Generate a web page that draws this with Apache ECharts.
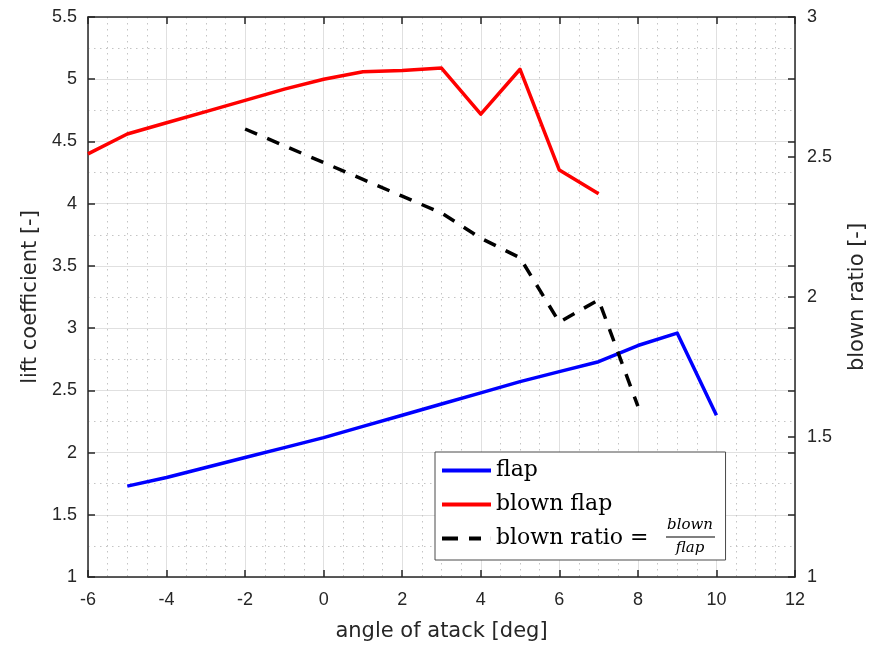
<!DOCTYPE html>
<html>
<head>
<meta charset="utf-8">
<script src="https://cdn.jsdelivr.net/npm/echarts@6/dist/echarts.min.js"></script>
<style>
  html, body { margin: 0; padding: 0; background: #ffffff; }
  #chart { width: 876px; height: 648px; }
</style>
</head>
<body>
<div id="chart"></div>
<script>
// Angle of attack [deg] and lift coefficient of the plain flap
const alphaFlap = [-5, -4, -3, -2, -1, 0, 1, 2, 3, 4, 5, 6, 7, 8, 9, 10];
const liftFlap  = [1.73, 1.80, 1.88, 1.96, 2.04, 2.12, 2.21, 2.30, 2.39, 2.48, 2.57, 2.65, 2.73, 2.86, 2.96, 2.30];

// Lift coefficient of the blown flap
const alphaBlown = [-6, -5, -4, -3, -2, -1, 0, 1, 2, 3, 4, 5, 6, 7];
const liftBlown  = [4.40, 4.56, 4.65, 4.74, 4.83, 4.92, 5.00, 5.06, 5.07, 5.09, 4.72, 5.08, 4.27, 4.08];

// Blown ratio = blown / flap (right axis)
const alphaRatio = [-2, -1, 0, 1, 2, 3, 4, 5, 6, 7, 8];
const blownRatio = [2.60, 2.54, 2.48, 2.42, 2.36, 2.30, 2.21, 2.14, 1.91, 1.99, 1.61];

// Axis ranges and tick spacing
const xRange = { min: -6, max: 12, step: 2 };
const liftRange = { min: 1, max: 5.5, step: 0.5 };
const ratioRange = { min: 1, max: 3, step: 0.5 };

const axisTitles = { x: 'angle of atack [deg]', left: 'lift coefficient [-]', right: 'blown ratio [-]' };
const seriesNames = ['flap', 'blown flap', 'blown ratio'];

const ink = '#262626';
const sans = '"Liberation Sans", Arial, Helvetica, sans-serif';
const titleFont = '"DejaVu Sans", "Liberation Sans", sans-serif';
const serif = '"DejaVu Serif", "Liberation Serif", serif';

const pairs = (xs, ys) => xs.map((x, i) => [x, ys[i]]);

const axisLine = { show: true, onZero: false, lineStyle: { color: ink, width: 1.5 } };
const axisTick = { show: true, inside: true, length: 7, lineStyle: { color: ink, width: 1.5 } };
const majorGrid = { show: true, lineStyle: { color: '#e0e0e0', width: 1 } };
const minorGrid = { show: true, lineStyle: { color: '#c4c4c4', width: 1, type: [1.5, 4.5] } };
const tickFont = { fontFamily: sans, fontSize: 18, color: ink };

// legend glyphs: solid bar and two-dash bar, 49 x 4
const solidIcon = 'path://M0 0H49V4H0Z';
const dashIcon = 'path://M0 0H16V4H0Z M27 0H39V4H27Z M48.9 0H49V4H48.9Z';

// stacked fraction shown after "blown ratio =" in the legend
const fracFont = 'italic 15px ' + serif;

const chart = echarts.init(document.getElementById('chart'), null, { renderer: 'canvas' });

chart.setOption({
  backgroundColor: '#ffffff',
  animation: false,
  grid: { left: 88, right: 79, top: 17, bottom: 71, containLabel: false },
  xAxis: [
    {
      type: 'value', position: 'bottom',
      min: xRange.min, max: xRange.max, interval: xRange.step,
      name: axisTitles.x, nameLocation: 'middle', nameGap: 44,
      nameTextStyle: { fontFamily: titleFont, fontSize: 21, color: ink },
      axisLine, axisTick,
      axisLabel: Object.assign({ margin: 14 }, tickFont),
      splitLine: majorGrid,
      minorTick: { show: false, splitNumber: 4 },
      minorSplitLine: minorGrid
    },
    {
      type: 'value', position: 'top',
      min: xRange.min, max: xRange.max, interval: xRange.step,
      axisLine, axisTick,
      axisLabel: { show: false },
      splitLine: { show: false }
    }
  ],
  yAxis: [
    {
      type: 'value', position: 'left',
      min: liftRange.min, max: liftRange.max, interval: liftRange.step,
      name: axisTitles.left, nameLocation: 'middle', nameGap: 47,
      nameTextStyle: { fontFamily: titleFont, fontSize: 21, color: ink },
      axisLine, axisTick,
      axisLabel: Object.assign({ margin: 11 }, tickFont),
      splitLine: majorGrid,
      minorTick: { show: false, splitNumber: 2 },
      minorSplitLine: minorGrid
    },
    {
      type: 'value', position: 'right',
      min: ratioRange.min, max: ratioRange.max, interval: ratioRange.step,
      name: axisTitles.right, nameLocation: 'middle', nameGap: 52,
      nameTextStyle: { fontFamily: titleFont, fontSize: 21, color: ink },
      axisLine, axisTick,
      axisLabel: Object.assign({ margin: 12 }, tickFont),
      splitLine: { show: false }
    },
    {
      // right box edge carrying the lift-coefficient ticks
      type: 'value', position: 'right',
      min: liftRange.min, max: liftRange.max, interval: liftRange.step,
      axisLine: { show: false, onZero: false }, axisTick,
      axisLabel: { show: false },
      splitLine: { show: false }
    }
  ],
  legend: {
    orient: 'vertical', left: 435, top: 452,
    backgroundColor: '#ffffff', borderColor: '#4a4a4a', borderWidth: 1,
    padding: [5, 11, 8, 7],
    itemWidth: 49, itemHeight: 4, itemGap: 7,
    selectedMode: false,
    textStyle: {
      fontFamily: serif, fontSize: 22, lineHeight: 27, color: '#000000',
      rich: {
        t: { fontFamily: serif, fontSize: 22, lineHeight: 27, color: '#000000' },
        g: { width: 66, fontSize: 22, lineHeight: 27 }
      }
    },
    formatter: name => name === seriesNames[2] ? '{t|blown ratio =}{g| }' : name,
    data: [
      { name: seriesNames[0], icon: solidIcon },
      { name: seriesNames[1], icon: solidIcon },
      { name: seriesNames[2], icon: dashIcon }
    ]
  },
  graphic: [
    { type: 'text', z: 100, x: 690, y: 525, style: { text: 'blown', font: fracFont, fill: '#000', align: 'center', verticalAlign: 'middle' } },
    { type: 'line', z: 100, shape: { x1: 666, y1: 537, x2: 715, y2: 537 }, style: { stroke: '#000', lineWidth: 1.2 } },
    { type: 'text', z: 100, x: 690, y: 548, style: { text: 'flap', font: fracFont, fill: '#000', align: 'center', verticalAlign: 'middle' } }
  ],
  series: [
    {
      name: seriesNames[0], type: 'line', xAxisIndex: 0, yAxisIndex: 0,
      data: pairs(alphaFlap, liftFlap), symbol: 'none',
      lineStyle: { color: '#0000ff', width: 3.5, join: 'round' },
      itemStyle: { color: '#0000ff' }
    },
    {
      name: seriesNames[1], type: 'line', xAxisIndex: 0, yAxisIndex: 0,
      data: pairs(alphaBlown, liftBlown), symbol: 'none',
      lineStyle: { color: '#ff0000', width: 3.5, join: 'round' },
      itemStyle: { color: '#ff0000' }
    },
    {
      name: seriesNames[2], type: 'line', xAxisIndex: 0, yAxisIndex: 1,
      data: pairs(alphaRatio, blownRatio), symbol: 'none',
      lineStyle: { color: '#000000', width: 3.5, type: [13, 11], cap: 'butt' },
      itemStyle: { color: '#000000' }
    }
  ]
});
</script>
</body>
</html>
